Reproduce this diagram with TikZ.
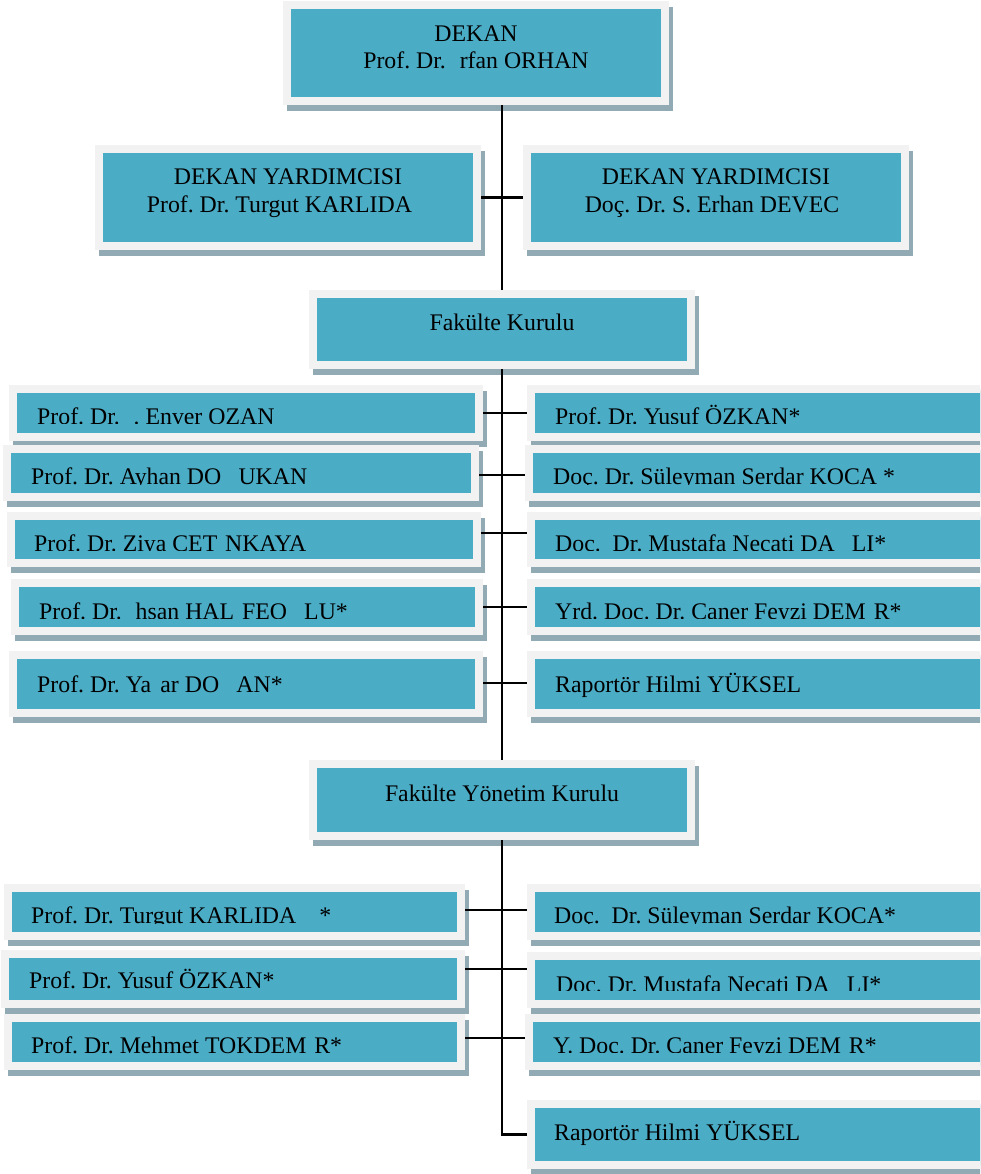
\documentclass[tikz,border=0pt]{standalone}
\usepackage{fontspec}
\setmainfont{Liberation Serif}
\frenchspacing
\definecolor{tealc}{RGB}{75,172,198}
\definecolor{outerc}{RGB}{242,242,242}
\definecolor{shadowc}{RGB}{146,170,179}
\tikzset{
  obox/.style={draw=outerc, line width=8pt, fill=tealc, inner sep=0pt},
  txt/.style={inner sep=0pt, font=\fontsize{23.8pt}{27pt}\selectfont},
  conn/.style={draw=black, line width=2.2pt}
}
% centred box: name, x1, y1, x2, y2 (outer edges, pixel units)
\newcommand\cbox[5]{%
  \fill[shadowc] ({#2+4},{#3+6}) rectangle ({#4+4},{#5+6});
  \node[obox, minimum width={(#4-#2-8)*1pt}, minimum height={(#5-#3-8)*1pt}] (#1) at ({(#2+#4)/2},{(#3+#5)/2}) {};
}
% list box: name, x1, y1, x2, y2, text x, baseline, clip y, text
\newcommand\lbox[9]{%
  \cbox{#1}{#2}{#3}{#4}{#5}
  \begin{scope}
    \clip (#2,#3) rectangle (#4,#8);
    \node[txt, anchor=base west] (#1t) at (#6,#7) {#9};
  \end{scope}
}
\begin{document}
\begin{tikzpicture}[x=1pt,y=-1pt]
\clip (0,0) rectangle (980,1174);
\fill[white] (0,0) rectangle (980,1174);

% top
\cbox{DEKAN}{283}{1}{669}{105}
\node[txt, anchor=base] (DEKANt1) at (476,42) {DEKAN};
\node[txt, anchor=base] (DEKANt2) at (476,69) {Prof. Dr. \kern.333em rfan ORHAN};

\cbox{DYL}{95}{145}{481}{250}
\node[txt, anchor=base] (DYLt1) at (288,185) {DEKAN YARDIMCISI};
\node[txt, anchor=base] (DYLt2) at (288,213) {Prof. Dr. Turgut KARLIDA\kern.722em};

\cbox{DYR}{523}{145}{909}{250}
\node[txt, anchor=base] (DYRt1) at (716,185) {DEKAN YARDIMCISI};
\node[txt, anchor=base] (DYRt2) at (716,213) {Doç. Dr. S. Erhan DEVEC\kern.333em};

\cbox{FK}{309}{290}{695}{369}
\node[txt, anchor=base] (FKt) at (502,330) {Fakülte Kurulu};

% Fakülte Kurulu members
\lbox{K1L}{9}{385}{483}{441}{37}{424}{423}{Prof. Dr. \kern.333em. Enver OZAN}
\lbox{K1R}{527}{385}{1000}{441}{555}{424}{423}{Prof. Dr. Yusuf ÖZKAN*}
\lbox{K2L}{3}{445}{479}{501}{31}{484.5}{484.2}{Prof. Dr. Ayhan DO\kern.722em UKAN}
\lbox{K2R}{525}{445}{1000}{501}{553}{484.5}{484.2}{Doç. Dr. Süleyman Serdar KOCA *}
\lbox{K3L}{7}{512}{481}{567}{34}{551}{550.8}{Prof. Dr. Ziya CET\kern.333em NKAYA}
\lbox{K3R}{527}{512}{1000}{567}{555}{551}{550.8}{Doç.\ \ Dr. Mustafa Necati DA\kern.722em LI*}
\lbox{K4L}{11}{579}{483}{635}{39}{619}{618}{Prof. Dr. \kern.333em hsan HAL\kern.333em FEO\kern.722em LU*}
\lbox{K4R}{527}{579}{1000}{635}{555}{619}{618}{Yrd. Doç. Dr. Caner Feyzi DEM\kern.333em R*}
\lbox{K5L}{9}{651}{483}{717}{37}{692}{717}{Prof. Dr. Ya\kern.389em ar DO\kern.722em AN*}
\lbox{K5R}{527}{651}{1000}{717}{555}{692}{717}{Raportör Hilmi YÜKSEL}

\cbox{FYK}{309}{760}{695}{840}
\node[txt, anchor=base] (FYKt) at (502,801) {Fakülte Yönetim Kurulu};

% Fakülte Yönetim Kurulu members
\lbox{Y1L}{4}{884}{465}{940}{31}{923.5}{923.2}{Prof. Dr. Turgut KARLIDA\kern.722em\ *}
\lbox{Y1R}{527}{884}{1000}{940}{554}{923.5}{923.2}{Doç.\ \ Dr. Süleyman Serdar KOCA*}
\lbox{Y2L}{1}{950}{465}{1008}{29}{988.5}{1008}{Prof. Dr. Yusuf ÖZKAN*}
\lbox{Y2R}{527}{952}{1000}{1008}{556}{992}{990}{Doç. Dr. Mustafa Necati DA\kern.722em LI*}
\lbox{Y3L}{4}{1014}{465}{1070}{31}{1053}{1070}{Prof. Dr. Mehmet TOKDEM\kern.333em R*}
\lbox{Y3R}{525}{1014}{1000}{1070}{553}{1053}{1052.8}{Y. Doç. Dr. Caner Feyzi DEM\kern.333em R*}
\lbox{YR}{527}{1100}{1000}{1169}{554}{1140}{1169}{Raportör Hilmi YÜKSEL}

% connectors
\draw[conn] (DEKAN.south -| FK.north) -- (FK.north);
\draw[conn] (DYL.east) -- (DYR.west);
\draw[conn] (FK.south) -- (FYK.north);
\draw[conn] (K1L.east) -- (K1R.west);
\draw[conn] (K2L.east |- 0,475) -- (K2R.west |- 0,475);
\draw[conn] (K3L.east |- 0,533) -- (K3R.west |- 0,533);
\draw[conn] (K4L.east |- 0,607) -- (K4R.west |- 0,607);
\draw[conn] (K5L.east |- 0,683) -- (K5R.west |- 0,683);
\draw[conn] (FYK.south) -- (FYK.south |- YR.west) -- (YR.west);
\draw[conn] (Y1L.east |- 0,910) -- (Y1R.west |- 0,910);
\draw[conn] (Y2L.east |- 0,969) -- (Y2R.west |- 0,969);
\draw[conn] (Y3L.east |- 0,1038) -- (Y3R.west |- 0,1038);
\end{tikzpicture}
\end{document}
